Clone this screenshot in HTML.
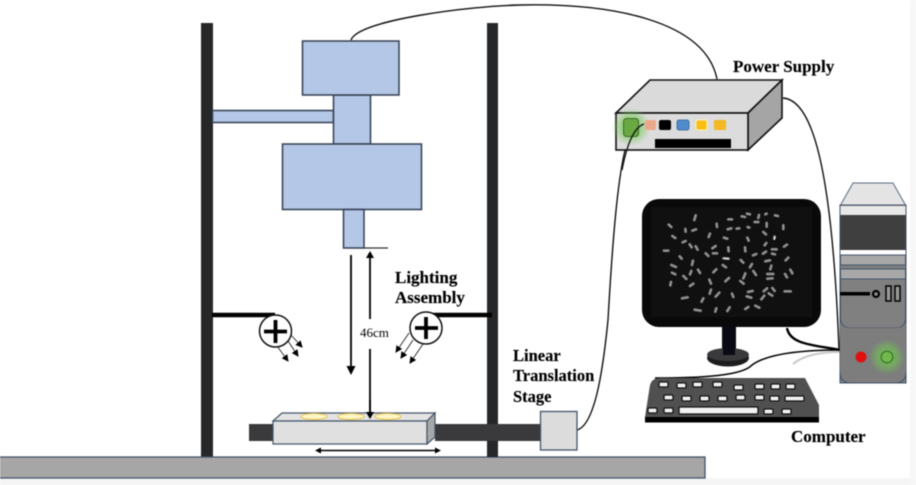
<!DOCTYPE html>
<html><head><meta charset="utf-8"><style>
html,body{margin:0;padding:0;background:#fff}
svg{display:block;filter:blur(.45px)}
text{font-family:"Liberation Serif",serif;font-weight:bold;fill:#000;stroke:#000;stroke-width:.15px}
</style></head><body>
<svg width="916" height="485" viewBox="0 0 916 485" xmlns="http://www.w3.org/2000/svg">
<defs>
<radialGradient id="g"><stop offset="0" stop-color="#5fc53a" stop-opacity=".85"/><stop offset=".55" stop-color="#70c850" stop-opacity=".55"/><stop offset="1" stop-color="#70c850" stop-opacity="0"/></radialGradient>
<marker id="a" markerWidth="9" markerHeight="9" refX="6" refY="3.500" orient="auto" markerUnits="userSpaceOnUse"><path d="M0 0L7 3.500L0 7z" fill="#000"/></marker>
</defs>
<rect width="916" height="485" fill="#fff"/>
<rect x="0" y="478" width="916" height="7" fill="#f5f5f5"/>
<rect x="910" y="0" width="6" height="485" fill="#f7f7f7"/>
<!-- poles -->
<rect x="201" y="23" width="12" height="434" fill="#262729"/>
<rect x="487" y="23" width="11" height="434" fill="#262729"/>
<!-- floor -->
<rect x="-1" y="457" width="706" height="21" fill="#a6a6a6" stroke="#44546a" stroke-width="1.300"/>
<!-- camera -->
<g fill="#b4c7e7" stroke="#333f52" stroke-width="1.500">
<rect x="212.500" y="110.500" width="121" height="12"/>
<rect x="333.500" y="95" width="37" height="49"/>
<rect x="302.500" y="41" width="96.500" height="54"/>
<rect x="282.500" y="144" width="139" height="65.500"/>
<rect x="343.500" y="209.500" width="20.500" height="38.500"/>
</g>
<path d="M364 248H388" stroke="#333" stroke-width="1.300"/>
<!-- cables -->
<g fill="none" stroke="#111" stroke-width="1.400">
<path d="M351 40C358 20 470 6 520 5C610 3 705 20 717 79"/>
<path d="M783 98C812 100 832 165 839 350"/>
<path d="M577 430C595 425 603 370 608 320C612 250 618 160 630 135C634 128 640 125 644 124"/>
</g>
<!-- measure arrows -->
<path d="M351 255V366" stroke="#000" stroke-width="1.800"/>
<path d="M346.500 366H355.500L351 375z" fill="#000"/>
<path d="M370 258V319M370 349V414" stroke="#000" stroke-width="1.800"/>
<path d="M366 258H374L370 251z" fill="#000"/>
<path d="M366 412H374L370 419z" fill="#000"/>
<text x="360" y="337" font-size="13" style="font-weight:normal;stroke:none">46cm</text>
<!-- lights -->
<path d="M212 315H275M430 315H492" stroke="#000" stroke-width="4.500"/>
<circle cx="275.500" cy="331" r="16" fill="#fff" stroke="#111" stroke-width="1.500"/>
<circle cx="426" cy="328" r="16" fill="#fff" stroke="#111" stroke-width="1.500"/>
<path d="M264 331.500H287M275.500 320V343M415 328H438M426 317V339" stroke="#000" stroke-width="3.800"/>
<g stroke="#222" stroke-width=".9">
<path d="M291 335L302 347" marker-end="url(#a)"/>
<path d="M288 341L298 356" marker-end="url(#a)"/>
<path d="M277 346L288 361" marker-end="url(#a)"/>
<path d="M409 333L396 352" marker-end="url(#a)"/>
<path d="M413 340L401 358" marker-end="url(#a)"/>
<path d="M423 344L410 363" marker-end="url(#a)"/>
</g>
<!-- stage -->
<rect x="249" y="424" width="24" height="17" fill="#3a3a3c"/>
<rect x="435" y="424" width="106" height="17" fill="#3a3a3c"/>
<rect x="487" y="441" width="11" height="16" fill="#262729"/>
<path d="M273 421L282 413H435L427 421z" fill="#e4e4e4" stroke="#44546a" stroke-width="1.200"/>
<rect x="273" y="421" width="154" height="23" fill="#e0e0e0" stroke="#44546a" stroke-width="1.200"/>
<path d="M427 421L435 413V437L427 444z" fill="#a8a8a8" stroke="#44546a" stroke-width="1.200"/>
<g fill="#fff6c8" stroke="#e9c44a" stroke-width="1.100">
<ellipse cx="314" cy="416.500" rx="13" ry="3"/><ellipse cx="351" cy="416.500" rx="13" ry="3"/><ellipse cx="388" cy="416.500" rx="13" ry="3"/>
</g>
<path d="M370 400V414" stroke="#000" stroke-width="1.800"/>
<path d="M366 412H374L370 419z" fill="#000"/>
<path d="M320 450.500H436" stroke="#000" stroke-width="1.500"/>
<path d="M315 450.500L321 447.500V453.500zM441 450.500L435 447.500V453.500z" fill="#000"/>
<rect x="540.500" y="411.500" width="36.500" height="38.500" fill="#dcdcdc" stroke="#44546a" stroke-width="1.300"/>
<!-- power supply -->
<path d="M616 113L650 80H782L748 113z" fill="#dadada" stroke="#111" stroke-width="1.600"/>
<path d="M748 113L782 80V118L748 150z" fill="#a5a5a5" stroke="#111" stroke-width="1.600"/>
<rect x="616" y="113" width="132" height="37" fill="#dcdcdc" stroke="#111" stroke-width="1.600"/>
<circle cx="631" cy="127" r="19" fill="url(#g)"/>
<rect x="623.500" y="118.500" width="15" height="18" rx="3" fill="#6aa842" stroke="#3d6b2a"/>
<rect x="645" y="120" width="11" height="10" rx="2" fill="#eba98c"/>
<rect x="659" y="120" width="12" height="10" rx="2" fill="#000"/>
<rect x="677" y="120" width="12" height="10" rx="2" fill="#4f8ccb" stroke="#2f5f95" stroke-width=".8"/>
<rect x="696" y="120" width="11" height="10" rx="2" fill="#fbbf14" stroke="#fff0b0" stroke-width="1"/>
<rect x="714" y="120" width="12" height="10" rx="1" fill="#f4b822"/>
<rect x="655" y="139" width="76" height="9" fill="#000"/>
<path d="M622 170C626 150 632 128 644 124" fill="none" stroke="#111" stroke-width="1.300"/>
<!-- monitor -->
<rect x="722" y="325" width="14" height="28" fill="#0a0a14"/>
<ellipse cx="728" cy="358" rx="21" ry="8.500" fill="#1c1c1e"/>
<ellipse cx="728" cy="354.500" rx="21" ry="6.500" fill="#3a3a3c"/>
<rect x="723" y="340" width="12" height="15" fill="#0a0a14"/>
<rect x="642" y="199" width="179" height="128" rx="17" fill="#090909"/>
<rect x="651" y="207" width="161" height="110" fill="#101010"/>
<g transform="translate(630 190) scale(.3333)">
<path fill="none" stroke="#8f8f8f" stroke-width="8" stroke-linecap="round" d="M193 90l4-14M116 104l8 7M127 138l9 6M166 117l1 8M187 122l11-4M236 141l4-10M261 111l-1-10M295 88l11 0M335 79l10 2M351 71l9 2M374 96l11 0M385 84l2-9M406 73l4-2M435 76l9 2M293 118l11-3M320 116l8-1M353 111l5 2M410 110l0-11M460 117l0-11M400 126l8 7M433 146l1-6M282 143l10 3M352 143l4 9M404 166l5-7M462 170l9-6M158 157l9-4M179 163l6 9M197 169l6 10M102 182l13 0M247 175l10-7M295 172l1 12M345 172l1 12M369 196l10-4M399 191l9-6M426 178l14 0M426 191l9 2M149 199l6 7M227 190l8 8M249 190l12 0M280 205l16 1M332 210l8 8M406 214l14-3M467 211l8-8M124 225l14 6M186 225l3-13M278 225l10 7M360 232l6-10M421 238l3-11M126 248l10 5M180 253l4-10M204 239l6 10M250 247l9-9M340 265l6-15M370 243l8 12M412 252l18 0M412 266l16-1M465 252l6 10M481 239l6 11M160 258l9 9M238 269l5 12M286 274l11-10M331 273l10 8M121 286l2-10M180 288l10-7M401 304l10-9M427 294l7 9M239 311l4-12M257 320l11-12M306 311l4 10M354 306l14-3M350 319l14 4M394 328l9-11M416 310l11 7M464 304l18 0M156 325l17-3M215 335l5-10M194 359l18 3M256 365l3-10M292 363l7-11M346 357l9-6M376 347l12 6"/>
<path fill="none" stroke="#e8e8e8" stroke-width="4" stroke-linecap="round" d="M433 148l1-8M283 205l12 1"/>
</g>
<!-- monitor/keyboard cables -->
<path d="M787 328C790 345 815 345 840 350" fill="none" stroke="#000" stroke-width="2.400"/>
<path d="M655 378C700 378 742 376 752 365C770 352 810 350 840 350" fill="none" stroke="#000" stroke-width="1.600"/>
<path d="M793 364C805 354 825 352 840 352" fill="none" stroke="#c8c8c8" stroke-width="2"/>
<!-- keyboard -->
<path d="M645 417L650 385Q652 378 660 378H805L819 405V418H645z" fill="#505050"/>
<rect x="645" y="417" width="174" height="5.500" fill="#000"/>
<g fill="#f2f2f2" stroke="#111" stroke-width="1.300">
<rect x="659" y="382" width="9" height="5" rx="1"/><rect x="677" y="383" width="9" height="5" rx="1"/><rect x="693" y="382" width="9" height="5" rx="1"/><rect x="713" y="382" width="9" height="5" rx="1"/><rect x="734" y="385" width="9" height="5" rx="1"/><rect x="755" y="384" width="9" height="5" rx="1"/><rect x="771" y="384" width="9" height="5" rx="1"/><rect x="786" y="384" width="9" height="5" rx="1"/>
<rect x="664" y="395" width="9" height="5" rx="1"/><rect x="682" y="396" width="9" height="5" rx="1"/><rect x="700" y="396" width="9" height="5" rx="1"/><rect x="718" y="396" width="9" height="5" rx="1"/><rect x="736" y="395" width="9" height="5" rx="1"/><rect x="755" y="395" width="9" height="5" rx="1"/><rect x="770" y="396" width="9" height="5" rx="1"/><rect x="785" y="396" width="19" height="5" rx="1"/>
<rect x="648" y="408" width="9" height="5" rx="1"/><rect x="664" y="408" width="9" height="5" rx="1"/><rect x="679" y="407" width="79" height="7" rx="1"/><rect x="764" y="409" width="9" height="5" rx="1"/><rect x="782" y="409" width="9" height="5" rx="1"/>
</g>
<!-- tower -->
<path d="M840 206L853 183H893L906 206z" fill="#e4e4e4" stroke="#5a6a80"/>
<rect x="840" y="205" width="66" height="178" fill="#7f7f7f" stroke="#44546a"/>
<rect x="840.500" y="206" width="65" height="9" fill="#e8e8e8"/>
<rect x="840.500" y="215" width="65" height="35" fill="#3f3f3f"/>
<rect x="840.500" y="250" width="65" height="5" fill="#fff"/>
<rect x="840.500" y="255" width="65" height="10" fill="#a8a8a8" stroke="#44546a"/>
<rect x="840.500" y="269" width="65" height="10" fill="#a8a8a8" stroke="#44546a"/>
<path d="M840.500 279H905.500V318Q905.500 328 895 328H851Q840.500 328 840.500 318z" fill="#808080" stroke="#44546a"/>
<path d="M840 322Q842 328 851 328H895Q904 328 906 322V372Q906 383 895 383H851Q840 383 840 372z" fill="#7d7d7d"/>
<path d="M840 372Q840 383 851 383H895Q906 383 906 372" fill="none" stroke="#44546a"/>
<rect x="840" y="292" width="30" height="3.500" fill="#000"/>
<circle cx="876" cy="294" r="3" fill="#888" stroke="#000" stroke-width="2.200"/>
<rect x="886" y="286" width="5" height="15" fill="#999" stroke="#000" stroke-width="1.500"/>
<rect x="895" y="286" width="5" height="15" fill="#999" stroke="#000" stroke-width="1.500"/>
<circle cx="861" cy="357" r="5.500" fill="#e01010"/>
<circle cx="887" cy="357" r="18" fill="url(#g)"/>
<circle cx="887" cy="357" r="5.800" fill="#72b84e" stroke="#2f6a20" stroke-width="1"/>
<!-- labels -->
<text x="395" y="283" font-size="17">Lighting</text>
<text x="395" y="303" font-size="17">Assembly</text>
<text x="513" y="361" font-size="16.500">Linear</text>
<text x="513" y="381" font-size="16.500">Translation</text>
<text x="513" y="402" font-size="16.500">Stage</text>
<text x="733" y="72" font-size="17">Power Supply</text>
<text x="791" y="442" font-size="17">Computer</text>
</svg>
</body></html>
